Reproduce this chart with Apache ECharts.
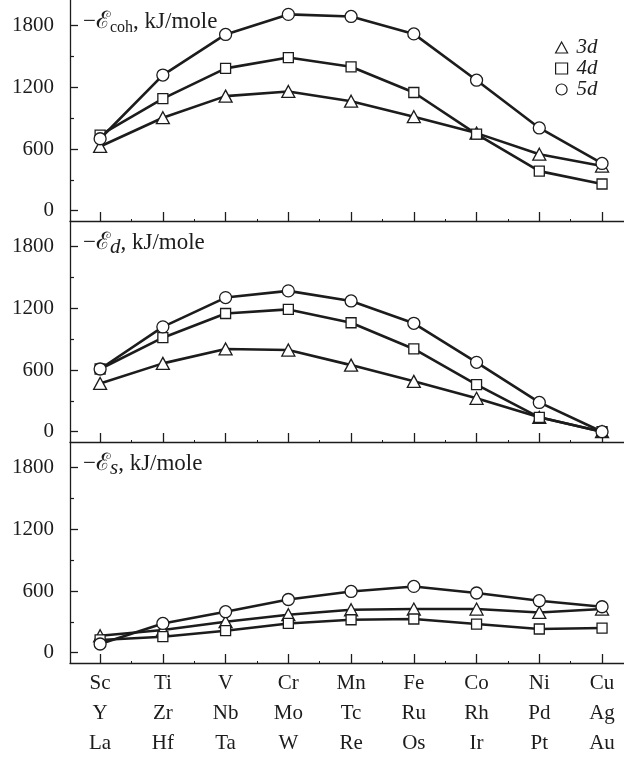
<!DOCTYPE html>
<html>
<head>
<meta charset="utf-8">
<script src="https://cdn.jsdelivr.net/npm/echarts@6/dist/echarts.min.js"></script>
<style>
  html, body { margin: 0; padding: 0; background: #fff; }
  #chart { width: 624px; height: 758px; }
</style>
</head>
<body>
<div id="chart"></div>
<script>
// Element columns: 3d / 4d / 5d transition metals
const row3d = ['Sc', 'Ti', 'V', 'Cr', 'Mn', 'Fe', 'Co', 'Ni', 'Cu'];
const row4d = ['Y', 'Zr', 'Nb', 'Mo', 'Tc', 'Ru', 'Rh', 'Pd', 'Ag'];
const row5d = ['La', 'Hf', 'Ta', 'W', 'Re', 'Os', 'Ir', 'Pt', 'Au'];

// Cohesive energy, kJ/mole
const coh3d = [625, 905, 1115, 1160, 1065, 915, 755, 550, 435];
const coh4d = [735, 1090, 1385, 1490, 1400, 1150, 745, 385, 260];
const coh5d = [700, 1320, 1715, 1910, 1890, 1720, 1270, 805, 460];

// d-electron contribution, kJ/mole
const d3d = [470, 665, 805, 795, 648, 490, 325, 140, 0];
const d4d = [610, 915, 1150, 1190, 1060, 805, 458, 140, 0];
const d5d = [610, 1020, 1305, 1370, 1272, 1055, 675, 285, 0];

// s-electron contribution, kJ/mole
const s3d = [165, 221, 302, 370, 418, 425, 425, 392, 425];
const s4d = [124, 156, 214, 285, 321, 328, 279, 231, 240];
const s5d = [85, 285, 399, 518, 596, 645, 581, 506, 447];

const yLabelValues = [0, 600, 1200, 1800];
const yMinorValues = [300, 900, 1500];

const FONT = '"Liberation Serif", "DejaVu Serif", serif';
const INK = '#1c1c1c';

const seriesNames = ['3d', '4d', '5d'];
const symbols = ['triangle', 'rect', 'circle'];
const symbolSizes = [[13, 12], 10, 12];

const panels = [
  { data: [coh3d, coh4d, coh5d], title: '{a|−}{e|ℰ}{sub|coh}{a|, kJ/mole}' },
  { data: [d3d, d4d, d5d], title: '{a|−}{e|ℰ}{subi|d}{a|, kJ/mole}' },
  { data: [s3d, s4d, s5d], title: '{a|−}{e|ℰ}{subi|s}{a|, kJ/mole}' }
];

const gridTop = [0, 221, 442];
const gridH = 221;
const idx = row3d.map((_, i) => i);
const halfIdx = idx.slice(0, -1).map(i => i + 0.5);

const grid = [], xAxis = [], yAxis = [], series = [], title = [];

panels.forEach((p, g) => {
  grid.push({ left: 70, width: 554, top: gridTop[g], height: gridH, containLabel: false });
  const isLast = g === panels.length - 1;

  // main x axis: line, ticks at each column, element labels on the last panel
  xAxis.push({
    type: 'value', gridIndex: g, min: -0.48, max: 8.35,
    position: 'bottom',
    axisLine: { show: true, onZero: false, lineStyle: { color: INK, width: 1.3 } },
    axisTick: { show: true, inside: true, length: 9, customValues: idx, lineStyle: { color: INK, width: 1.3 } },
    axisLabel: isLast ? {
      show: true, customValues: idx, margin: 5,
      formatter: v => { const i = Math.round(v); return row3d[i] + '\n' + row4d[i] + '\n' + row5d[i]; },
      fontFamily: FONT, fontSize: 21, color: INK, lineHeight: 30
    } : { show: false },
    splitLine: { show: false }
  });
  // minor x ticks between columns
  xAxis.push({
    type: 'value', gridIndex: g, min: -0.48, max: 8.35,
    position: 'bottom',
    axisLine: { show: false, onZero: false },
    axisTick: { show: true, inside: true, length: 2, customValues: halfIdx, lineStyle: { color: INK, width: 1 } },
    axisLabel: { show: false },
    splitLine: { show: false }
  });

  yAxis.push({
    type: 'value', gridIndex: g, min: -100, max: 2050, position: 'left',
    axisLine: { show: true, onZero: false, lineStyle: { color: INK, width: 1.3 } },
    axisTick: { show: true, inside: true, length: 8, customValues: yLabelValues, lineStyle: { color: INK, width: 1.3 } },
    axisLabel: { show: true, customValues: yLabelValues, margin: 16, formatter: v => String(v), fontFamily: FONT, fontSize: 21, color: INK },
    splitLine: { show: false }
  });
  yAxis.push({
    type: 'value', gridIndex: g, min: -100, max: 2050, position: 'left',
    axisLine: { show: false, onZero: false },
    axisTick: { show: true, inside: true, length: 4, customValues: yMinorValues, lineStyle: { color: INK, width: 1.2 } },
    axisLabel: { show: false },
    splitLine: { show: false }
  });

  p.data.forEach((vals, k) => {
    series.push({
      name: seriesNames[k], type: 'line',
      xAxisIndex: g * 2, yAxisIndex: g * 2,
      data: vals.map((v, i) => [i, v]),
      symbol: symbols[k], symbolSize: symbolSizes[k],
      showAllSymbol: true,
      lineStyle: { color: INK, width: 2.6 },
      itemStyle: { color: '#fff', borderColor: INK, borderWidth: 1.3 },
      emphasis: { disabled: true },
      animation: false, clip: false, z: 2 + k
    });
  });

  title.push({
    text: p.title, left: 78, top: gridTop[g] + 5,
    textStyle: {
      fontWeight: 'normal',
      rich: {
        a: { fontFamily: FONT, fontSize: 23, fontWeight: 'normal', color: INK },
        e: { fontFamily: '"DejaVu Serif", serif', fontSize: 24, fontWeight: 'normal', color: INK },
        sub: { fontFamily: FONT, fontSize: 16, fontWeight: 'normal', color: INK, verticalAlign: 'bottom', padding: [0, 0, -2, 0] },
        subi: { fontFamily: FONT, fontSize: 21, fontStyle: 'italic', fontWeight: 'normal', color: INK, verticalAlign: 'bottom', padding: [0, 0, -3, 0] }
      }
    }
  });
});

const chart = echarts.init(document.getElementById('chart'), null, { renderer: 'canvas' });
chart.setOption({
  animation: false,
  backgroundColor: '#fff',
  title,
  grid, xAxis, yAxis, series,
  legend: {
    data: seriesNames.map((n, k) => ({ name: n, icon: symbols[k] })),
    orient: 'vertical', left: 550, top: 32,
    itemWidth: 12, itemHeight: 11, itemGap: 0,
    selectedMode: false,
    itemStyle: { color: '#fff', borderColor: INK, borderWidth: 1.2 },
    textStyle: { fontFamily: FONT, fontSize: 21, fontStyle: 'italic', color: INK, lineHeight: 19, padding: [0, 0, 0, 4] }
  }
});
</script>
</body>
</html>
